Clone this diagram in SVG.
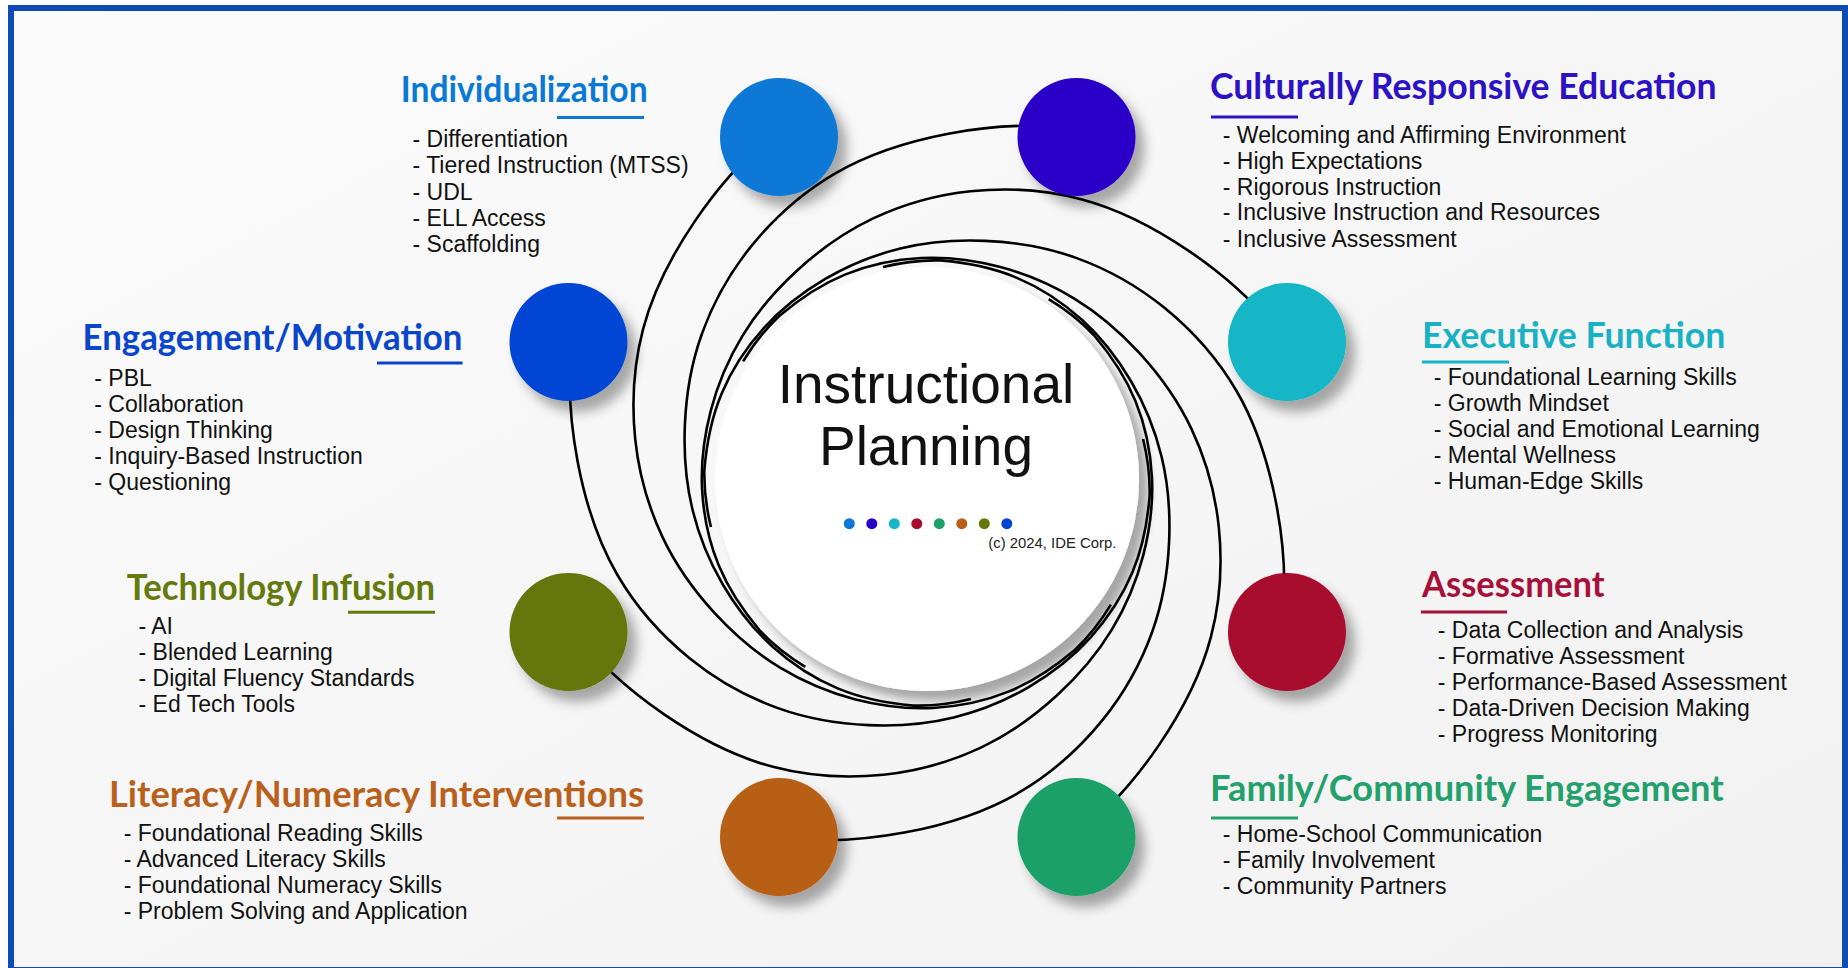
<svg xmlns="http://www.w3.org/2000/svg" width="1848" height="968" viewBox="0 0 1848 968">
<defs>
<linearGradient id="bg" x1="0" y1="0" x2="1" y2="1"><stop offset="0" stop-color="#fbfbfb"/><stop offset="1" stop-color="#f1f1f1"/></linearGradient>
<filter id="sh" x="-40%" y="-40%" width="190%" height="190%"><feDropShadow dx="9" dy="11" stdDeviation="6" flood-color="#000" flood-opacity="0.33"/></filter>
<filter id="dsh" x="-20%" y="-20%" width="150%" height="150%"><feDropShadow dx="9" dy="10" stdDeviation="5" flood-color="#000" flood-opacity="0.32"/></filter>
<path id="sw" d="M 379.15 66.86 C 375.81 20.78 361.95 -22.47 344.68 -60.78 C 327.41 -99.09 306.46 -133.54 279.73 -161.5 C 253.0 -189.46 221.59 -210.68 189.62 -225.98 C 157.65 -241.28 124.49 -250.18 92.35 -253.72 C 60.21 -257.26 28.97 -254.67 0 -249 C -28.97 -243.33 -56.11 -234.45 -80.72 -221.77 C -105.33 -209.09 -127.42 -193.12 -146.56 -174.66 C -165.7 -156.2 -182.34 -135.5 -194.86 -112.5 C -207.38 -89.5 -216.41 -64.63 -220.6 -38.9 C -224.79 -13.17 -223.5 13.21 -219.61 38.72 C -215.68 57.74 -208.65 76.07 -199.84 93.19"/>
<style>
.h{font-family:Lato,"Noto Sans",sans-serif;font-weight:700;font-size:36px}
.t{font-family:"Liberation Sans",Arial,sans-serif;font-size:23px;fill:#111}
.u{stroke-width:3}
.sw{fill:none;stroke:#000;stroke-width:2.6}
.dot{stroke:none}
</style>
</defs>
<rect width="1848" height="968" fill="#fff"/>
<rect x="8" y="5" width="1840" height="963" fill="#0e4bb5"/>
<rect x="14" y="11" width="1828" height="956" fill="url(#bg)"/>

<g id="center">
<circle cx="927" cy="479" r="212" fill="#fff" filter="url(#dsh)"/>
<text x="926" y="403" text-anchor="middle" font-family="Liberation Sans, Arial, sans-serif" font-size="55" fill="#111">Instructional</text>
<text x="926" y="465" text-anchor="middle" font-family="Liberation Sans, Arial, sans-serif" font-size="55" fill="#111">Planning</text>
<circle class="dot" cx="849.3" cy="523.7" r="5.5" fill="#0a78d6"/>
<circle class="dot" cx="871.8" cy="523.7" r="5.5" fill="#2a00c8"/>
<circle class="dot" cx="894.3" cy="523.7" r="5.5" fill="#13b6c6"/>
<circle class="dot" cx="916.8" cy="523.7" r="5.5" fill="#a80c2e"/>
<circle class="dot" cx="939.3" cy="523.7" r="5.5" fill="#1ea06a"/>
<circle class="dot" cx="961.8" cy="523.7" r="5.5" fill="#b85f17"/>
<circle class="dot" cx="984.3" cy="523.7" r="5.5" fill="#65760a"/>
<circle class="dot" cx="1006.8" cy="523.7" r="5.5" fill="#0044d4"/>
<text x="988.3" y="548.3" font-family="Liberation Sans, Arial, sans-serif" font-size="14.5" fill="#222" textLength="128" lengthAdjust="spacingAndGlyphs">(c) 2024, IDE Corp.</text>
</g>

<g id="connectors" class="sw">
<use href="#sw" transform="translate(927 483) rotate(13.5)"/>
<use href="#sw" transform="translate(927 483) rotate(58.5)"/>
<use href="#sw" transform="translate(927 483) rotate(103.5)"/>
<use href="#sw" transform="translate(927 483) rotate(148.5)"/>
<use href="#sw" transform="translate(927 483) rotate(193.5)"/>
<use href="#sw" transform="translate(927 483) rotate(238.5)"/>
<use href="#sw" transform="translate(927 483) rotate(283.5)"/>
<use href="#sw" transform="translate(927 483) rotate(328.5)"/>
</g>

<g id="node-individualization">
<circle cx="779" cy="137" r="59" fill="#0a78d6" filter="url(#sh)"/>
<text class="h" x="400.7" y="102" fill="#0a79d5" textLength="247" lengthAdjust="spacingAndGlyphs">Individualization</text>
<line class="u" x1="557" y1="117.5" x2="644" y2="117.5" stroke="#0a79d5"/>
<text class="t" x="412.5" y="147.3">- Differentiation</text>
<text class="t" x="412.5" y="173.4">- Tiered Instruction (MTSS)</text>
<text class="t" x="412.5" y="199.5">- UDL</text>
<text class="t" x="412.5" y="225.6">- ELL Access</text>
<text class="t" x="412.5" y="251.7">- Scaffolding</text>
</g>

<g id="node-culturally-responsive">
<circle cx="1076.5" cy="137" r="59" fill="#2a00c8" filter="url(#sh)"/>
<text class="h" x="1210" y="99.3" fill="#2c12c4" textLength="506.6" lengthAdjust="spacingAndGlyphs">Culturally Responsive Education</text>
<line class="u" x1="1211" y1="117" x2="1298" y2="117" stroke="#2c12c4"/>
<text class="t" x="1222.8" y="142.7">- Welcoming and Affirming Environment</text>
<text class="t" x="1222.8" y="168.6">- High Expectations</text>
<text class="t" x="1222.8" y="194.5">- Rigorous Instruction</text>
<text class="t" x="1222.8" y="220.4">- Inclusive Instruction and Resources</text>
<text class="t" x="1222.8" y="246.5">- Inclusive Assessment</text>
</g>

<g id="node-executive-function">
<circle cx="1287" cy="342" r="59" fill="#13b6c6" filter="url(#sh)"/>
<text class="h" x="1422" y="347.7" fill="#19b1c4" textLength="303.4" lengthAdjust="spacingAndGlyphs">Executive Function</text>
<line class="u" x1="1422" y1="362" x2="1509" y2="362" stroke="#19b1c4"/>
<text class="t" x="1433.7" y="385">- Foundational Learning Skills</text>
<text class="t" x="1433.7" y="411">- Growth Mindset</text>
<text class="t" x="1433.7" y="437">- Social and Emotional Learning</text>
<text class="t" x="1433.7" y="463">- Mental Wellness</text>
<text class="t" x="1433.7" y="489">- Human-Edge Skills</text>
</g>

<g id="node-assessment">
<circle cx="1287" cy="632" r="59" fill="#a80c2e" filter="url(#sh)"/>
<text class="h" x="1422" y="597.3" fill="#a6103a" textLength="182.6" lengthAdjust="spacingAndGlyphs">Assessment</text>
<line class="u" x1="1421" y1="612" x2="1507" y2="612" stroke="#a6103a"/>
<text class="t" x="1437.8" y="638">- Data Collection and Analysis</text>
<text class="t" x="1437.8" y="664">- Formative Assessment</text>
<text class="t" x="1437.8" y="690">- Performance-Based Assessment</text>
<text class="t" x="1437.8" y="716">- Data-Driven Decision Making</text>
<text class="t" x="1437.8" y="742">- Progress Monitoring</text>
</g>

<g id="node-family-community">
<circle cx="1076.5" cy="837" r="59" fill="#1ea06a" filter="url(#sh)"/>
<text class="h" x="1210" y="800.7" fill="#24a06c" textLength="513.6" lengthAdjust="spacingAndGlyphs">Family/Community Engagement</text>
<line class="u" x1="1211" y1="818" x2="1298" y2="818" stroke="#24a06c"/>
<text class="t" x="1222.8" y="842.3">- Home-School Communication</text>
<text class="t" x="1222.8" y="868.3">- Family Involvement</text>
<text class="t" x="1222.8" y="894.3">- Community Partners</text>
</g>

<g id="node-literacy-numeracy">
<circle cx="779" cy="837" r="59" fill="#b85f17" filter="url(#sh)"/>
<text class="h" x="109" y="806.7" fill="#b9611c" textLength="535" lengthAdjust="spacingAndGlyphs">Literacy/Numeracy Interventions</text>
<line class="u" x1="557" y1="818" x2="644" y2="818" stroke="#b9611c"/>
<text class="t" x="123.7" y="841.3">- Foundational Reading Skills</text>
<text class="t" x="123.7" y="867.3">- Advanced Literacy Skills</text>
<text class="t" x="123.7" y="893.3">- Foundational Numeracy Skills</text>
<text class="t" x="123.7" y="919.3">- Problem Solving and Application</text>
</g>

<g id="node-technology-infusion">
<circle cx="568.5" cy="632" r="59" fill="#65760a" filter="url(#sh)"/>
<text class="h" x="126.7" y="600" fill="#657a0d" textLength="308.3" lengthAdjust="spacingAndGlyphs">Technology Infusion</text>
<line class="u" x1="348" y1="612.3" x2="435" y2="612.3" stroke="#657a0d"/>
<text class="t" x="138.5" y="633.5">- AI</text>
<text class="t" x="138.5" y="659.6">- Blended Learning</text>
<text class="t" x="138.5" y="685.7">- Digital Fluency Standards</text>
<text class="t" x="138.5" y="711.8">- Ed Tech Tools</text>
</g>

<g id="node-engagement-motivation">
<circle cx="568.5" cy="342" r="59" fill="#0044d4" filter="url(#sh)"/>
<text class="h" x="82.5" y="350" fill="#0a46cc" textLength="380" lengthAdjust="spacingAndGlyphs">Engagement/Motivation</text>
<line class="u" x1="377" y1="363" x2="462.6" y2="363" stroke="#0a46cc"/>
<text class="t" x="94.3" y="385.7">- PBL</text>
<text class="t" x="94.3" y="411.7">- Collaboration</text>
<text class="t" x="94.3" y="437.7">- Design Thinking</text>
<text class="t" x="94.3" y="463.6">- Inquiry-Based Instruction</text>
<text class="t" x="94.3" y="489.6">- Questioning</text>
</g>
</svg>
